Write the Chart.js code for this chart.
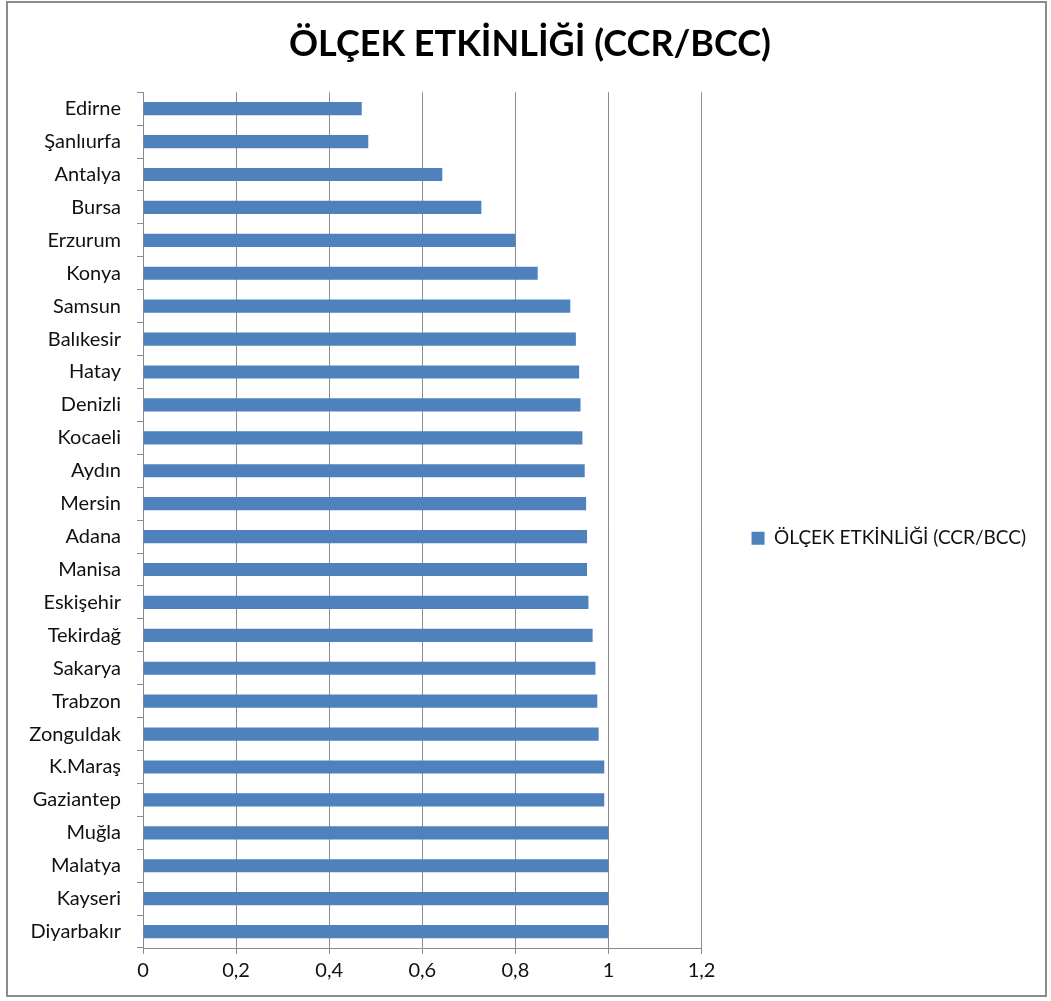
<!DOCTYPE html>
<html>
<head>
<meta charset="utf-8">
<script src="https://cdn.jsdelivr.net/npm/chart.js@4/dist/chart.umd.min.js"></script>
<style>
  body { margin: 0; background: #fff; }
  #wrap { position: relative; width: 1051px; height: 1001px; }
  #frame {
    position: absolute; left: 6px; top: 1px; width: 1041px; height: 996px;
    border: 2px solid #8c8c8c; box-sizing: border-box; pointer-events: none;
  }
  canvas { position: absolute; left: 0; top: 0; }
</style>
</head>
<body>
<div id="wrap">
  <canvas id="olcekChart" width="1051" height="1001"></canvas>
  <div id="frame"></div>
</div>
<script>
const chartTitle = 'ÖLÇEK ETKİNLİĞİ (CCR/BCC)';
const seriesName = 'ÖLÇEK ETKİNLİĞİ (CCR/BCC)';

// iller, en düşük etkinlikten en yükseğe
const cities = [
    'Edirne', 'Şanlıurfa', 'Antalya', 'Bursa', 'Erzurum', 'Konya', 'Samsun',
    'Balıkesir', 'Hatay', 'Denizli', 'Kocaeli', 'Aydın', 'Mersin', 'Adana',
    'Manisa', 'Eskişehir', 'Tekirdağ', 'Sakarya', 'Trabzon', 'Zonguldak',
    'K.Maraş', 'Gaziantep', 'Muğla', 'Malatya', 'Kayseri', 'Diyarbakır'
];

const scaleEfficiency = [
    0.470, 0.484, 0.643, 0.727, 0.800, 0.848, 0.918,
    0.930, 0.937, 0.940, 0.944, 0.949, 0.952, 0.954,
    0.954, 0.957, 0.966, 0.972, 0.976, 0.979,
    0.991, 0.991, 1.000, 1.000, 1.000, 1.000
];

const xTickLabels = ['0', '0,2', '0,4', '0,6', '0,8', '1', '1,2'];

const barColor = '#4f81bd';
const gridColor = '#8c8c8c';
const fontFamily = 'Lato, "Open Sans", sans-serif';

function drawChart() {
    const ctx = document.getElementById('olcekChart').getContext('2d');
    new Chart(ctx, {
        type: 'bar',
        data: {
            labels: cities,
            datasets: [{
                label: seriesName,
                data: scaleEfficiency,
                backgroundColor: barColor,
                borderWidth: 0,
                barPercentage: 0.4,
                categoryPercentage: 1.0
            }]
        },
        options: {
            indexAxis: 'y',
            responsive: false,
            animation: false,
            devicePixelRatio: 1,
            layout: {
                padding: { left: 24, right: 15, top: 0, bottom: 0 }
            },
            plugins: {
                title: {
                    display: true,
                    text: chartTitle,
                    color: '#000',
                    font: { family: fontFamily, size: 36, weight: 'bold' },
                    padding: { top: 23, bottom: 26 }
                },
                legend: {
                    display: true,
                    position: 'right',
                    maxWidth: 420,
                    // boş başlık, lejantı biraz aşağı itiyor
                    title: {
                        display: true,
                        text: ' ',
                        font: { family: fontFamily, size: 18 },
                        padding: { top: 0, bottom: 54 }
                    },
                    labels: {
                        color: '#111',
                        font: { family: fontFamily, size: 19 },
                        boxWidth: 13,
                        boxHeight: 13,
                        padding: 50
                    }
                },
                tooltip: { enabled: false }
            },
            scales: {
                x: {
                    min: 0,
                    max: 1.2,
                    ticks: {
                        stepSize: 0.2,
                        color: '#111',
                        font: { family: fontFamily, size: 20 },
                        padding: 5,
                        callback: (value, index) => xTickLabels[index]
                    },
                    grid: {
                        color: gridColor,
                        tickColor: gridColor,
                        tickLength: 6,
                        lineWidth: 1
                    },
                    border: { color: gridColor, width: 1 },
                    afterFit: scale => { scale.height = 53; }
                },
                y: {
                    ticks: {
                        color: '#111',
                        font: { family: fontFamily, size: 20 },
                        padding: 16
                    },
                    grid: {
                        drawOnChartArea: false,
                        tickColor: gridColor,
                        tickLength: 6
                    },
                    border: { color: gridColor, width: 1 },
                    afterFit: scale => { scale.width = 119; }
                }
            }
        }
    });
}

Promise.all([
    document.fonts.load('20px Lato'),
    document.fonts.load('bold 36px Lato')
]).then(drawChart, drawChart);
</script>
</body>
</html>
